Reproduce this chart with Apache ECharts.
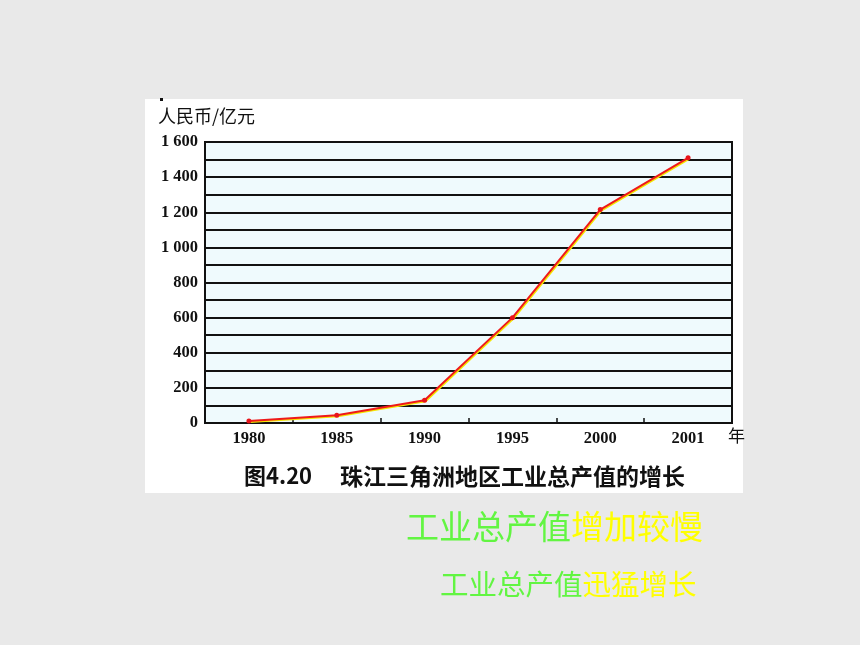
<!DOCTYPE html>
<html>
<head>
<meta charset="utf-8">
<script src="https://cdn.jsdelivr.net/npm/echarts@6/dist/echarts.min.js"></script>
<style>
html,body{margin:0;padding:0;background:#e9e9e9;}
#main{width:860px;height:645px;}
</style>
</head>
<body>
<div id="main"></div>
<script>
// Data
var years = ['1980', '1985', '1990', '1995', '2000', '2001'];
var values = [12, 44, 130, 600, 1215, 1510];
var yTicks = [0, 200, 400, 600, 800, 1000, 1200, 1400, 1600];
var yUnit = '人民币/亿元';
var xUnit = '年';
var caption = '珠江三角洲地区工业总产值的增长';
var figNo = '图4.20';
var note1a = '工业总产值', note1b = '增加较慢';
var note2a = '工业总产值', note2b = '迅猛增长';

function fmt(v) {
  if (yTicks.indexOf(v) < 0) return '';
  if (v >= 1000) return Math.floor(v / 1000) + ' ' + String(v % 1000).padStart(3, '0');
  return String(v);
}

var chart = echarts.init(document.getElementById('main'), null, {renderer: 'canvas'});
chart.setOption({
  backgroundColor: '#e9e9e9',
  animation: false,
  grid: {
    left: 205, right: 128, top: 142, bottom: 222,
    show: true, backgroundColor: '#effafd', borderColor: '#111', borderWidth: 2
  },
  xAxis: {
    type: 'category',
    data: years,
    boundaryGap: true,
    axisLine: {lineStyle: {color: '#111', width: 2}},
    axisTick: {show: true, inside: true, length: 5, lineStyle: {color: '#111', width: 1.5}},
    axisLabel: {color: '#111', fontFamily: 'Liberation Serif', fontSize: 16.5, fontWeight: 'bold', margin: 7},
    splitLine: {show: false}
  },
  yAxis: {
    type: 'value',
    min: 0, max: 1600, interval: 100,
    axisLine: {show: true, lineStyle: {color: '#111', width: 2}},
    axisTick: {show: false},
    axisLabel: {color: '#111', fontFamily: 'Liberation Serif', fontSize: 16.5, fontWeight: 'bold', margin: 7, formatter: fmt},
    splitLine: {show: true, lineStyle: {color: '#111', width: 2}}
  },
  series: [{
    type: 'line',
    data: values,
    symbol: 'circle',
    symbolSize: 5,
    itemStyle: {color: '#e8141a'},
    lineStyle: {color: '#ee1a1a', width: 2, shadowColor: '#f5e600', shadowBlur: 0, shadowOffsetX: 1, shadowOffsetY: 1},
    z: 5
  }],
  graphic: [
    {type: 'rect', z: -100, shape: {x: 145, y: 99, width: 598, height: 394}, style: {fill: '#ffffff'}},
    {type: 'rect', shape: {x: 160, y: 98, width: 3, height: 3}, style: {fill: '#111'}},
    {type: 'text', left: 158, top: 107, style: {text: yUnit, fill: '#111', font: '18px "Noto Sans CJK SC"'}},
    {type: 'text', left: 728, top: 427, style: {text: xUnit, fill: '#111', font: '17px "Noto Sans CJK SC"'}},
    {type: 'text', left: 244, top: 465, style: {text: figNo, fill: '#111', font: 'bold 22px "Noto Sans CJK SC"'}},
    {type: 'text', left: 340, top: 465, style: {text: caption, fill: '#111', font: 'bold 23px "Noto Sans CJK SC"'}},
    {type: 'text', left: 406, top: 510, style: {
      text: '{g|' + note1a + '}{y|' + note1b + '}',
      rich: {g: {fill: '#62f542', font: '33px "Noto Sans CJK SC"'}, y: {fill: '#ffff00', font: '33px "Noto Sans CJK SC"'}}
    }},
    {type: 'text', left: 440, top: 570, style: {
      text: '{g|' + note2a + '}{y|' + note2b + '}',
      rich: {g: {fill: '#62f542', font: '28.5px "Noto Sans CJK SC"'}, y: {fill: '#ffff00', font: '28.5px "Noto Sans CJK SC"'}}
    }}
  ]
});
</script>
</body>
</html>
